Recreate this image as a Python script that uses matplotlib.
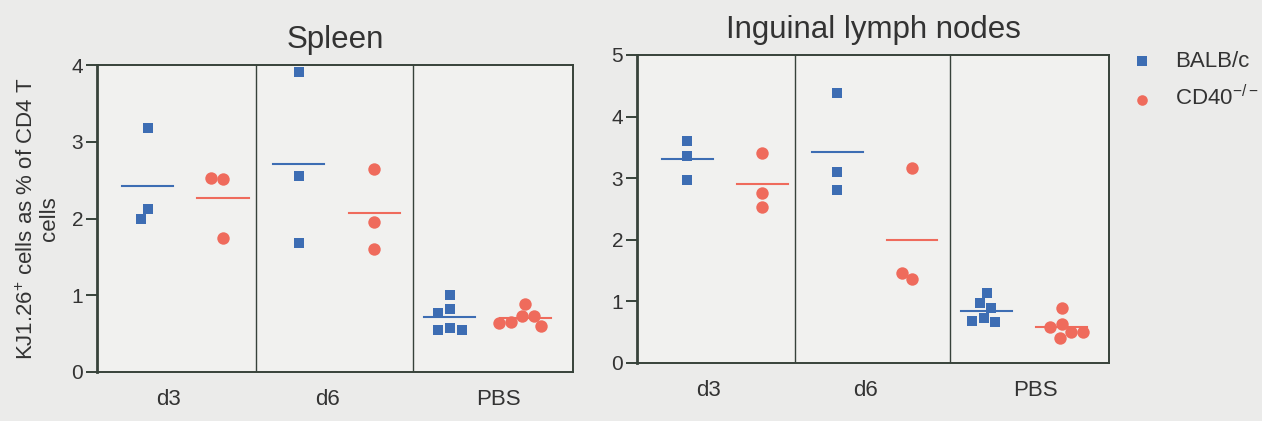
import matplotlib
matplotlib.use('Agg')
import matplotlib.pyplot as plt
import numpy as np

plt.rcParams['font.family'] = ['Liberation Sans', 'DejaVu Sans']
plt.rcParams['mathtext.fontset'] = 'custom'
plt.rcParams['mathtext.rm'] = 'Liberation Sans'
plt.rcParams['mathtext.it'] = 'Liberation Sans'

groups = ['d3', 'd6', 'PBS']
strains = ['BALB/c', 'CD40$^{-/-}$']

# values, one list per group
spleen_balb = [[3.18, 2.12, 1.99], [3.91, 2.55, 1.68],
               [1.01, 0.82, 0.77, 0.57, 0.55, 0.55]]
spleen_cd40 = [[2.52, 2.53, 1.74], [2.65, 1.96, 1.60],
               [0.88, 0.73, 0.73, 0.65, 0.60, 0.64]]
lymph_balb = [[3.60, 3.36, 2.97], [4.38, 3.10, 2.81],
              [1.13, 0.97, 0.89, 0.73, 0.66, 0.68]]
lymph_cd40 = [[3.41, 2.76, 2.53], [3.17, 1.36, 1.46],
              [0.89, 0.63, 0.58, 0.50, 0.50, 0.41]]

blue = '#3d6db3'
red = '#ef6b5c'
frame = '#37423a'
txt = '#333333'

W, H = 1262, 421
XLIM = (-0.67, 5.63)


def swarm(vals, pxx, pxy, d=12.0):
    # beeswarm: put each point as near the centre as it fits (pixel units)
    cands = sorted(np.arange(-40, 40.5, 0.5), key=abs)
    placed = []
    offs = []
    for v in vals:
        for c in cands:
            if all((c - px) ** 2 + ((v - pv) * pxy) ** 2 >= d * d for pv, px in placed):
                break
        placed.append((v, c))
        offs.append(c / pxx)
    return np.array(offs)


def panel(ax, balb, cd40, ymax, title, rect):
    ax.set_facecolor('#f1f1ef')
    pxx = rect[2] * W / (XLIM[1] - XLIM[0])
    pxy = rect[3] * H / ymax
    col = 0
    for gi in range(len(groups)):
        for vals, color, mk, ms in [(balb[gi], blue, 's', 62), (cd40[gi], red, 'o', 80)]:
            xs = col + swarm(vals, pxx, pxy)
            ax.scatter(xs, vals, marker=mk, s=ms, color=color, zorder=3, linewidths=0)
            m = np.mean(vals)
            ax.plot([col - 0.34, col + 0.34], [m, m], color=color, lw=1.5, zorder=2)
            col += 1
    ax.axvline(1.44, color=frame, lw=1.0)
    ax.axvline(3.51, color=frame, lw=1.0)
    ax.set_xlim(*XLIM)
    ax.set_ylim(0, ymax)
    ax.set_yticks(range(ymax + 1))
    ax.set_xticks([0.28, 2.38, 4.65])
    ax.set_xticklabels(groups)
    ax.tick_params(axis='x', length=0, pad=12, labelsize=16, labelcolor=txt)
    ax.tick_params(axis='y', length=8, width=1.4, color=frame, pad=2,
                   labelsize=15, labelcolor=txt)
    for s in ax.spines.values():
        s.set_color(frame)
        s.set_linewidth(1.4)
    ax.spines['left'].set_linewidth(2.0)
    ax.set_title(title, fontsize=22.5, color=txt, pad=12)


fig = plt.figure(figsize=(W / 100, H / 100), dpi=100)
fig.patch.set_facecolor('#ebebea')

r1 = [0.0769, 0.1164, 0.377, 0.729]
r2 = [0.5048, 0.1378, 0.374, 0.7316]
ax1 = fig.add_axes(r1)
ax2 = fig.add_axes(r2)

panel(ax1, spleen_balb, spleen_cd40, 4, 'Spleen', r1)
panel(ax2, lymph_balb, lymph_cd40, 5, 'Inguinal lymph nodes', r2)

ax1.set_ylabel('KJ1.26$^{+}$ cells as % of CD4 T\ncells', fontsize=16,
               color=txt, labelpad=8, linespacing=1.05)

h1 = ax2.scatter([], [], marker='s', s=48, color=blue, linewidths=0)
h2 = ax2.scatter([], [], marker='o', s=58, color=red, linewidths=0)
fig.legend([h1, h2], strains, loc='upper left', bbox_to_anchor=(0.889, 0.9),
           frameon=False, fontsize=16, labelcolor=txt, handlelength=1.0,
           handletextpad=1.0, labelspacing=0.6, borderaxespad=0)

fig.savefig('out.png', dpi=100, facecolor=fig.get_facecolor())
